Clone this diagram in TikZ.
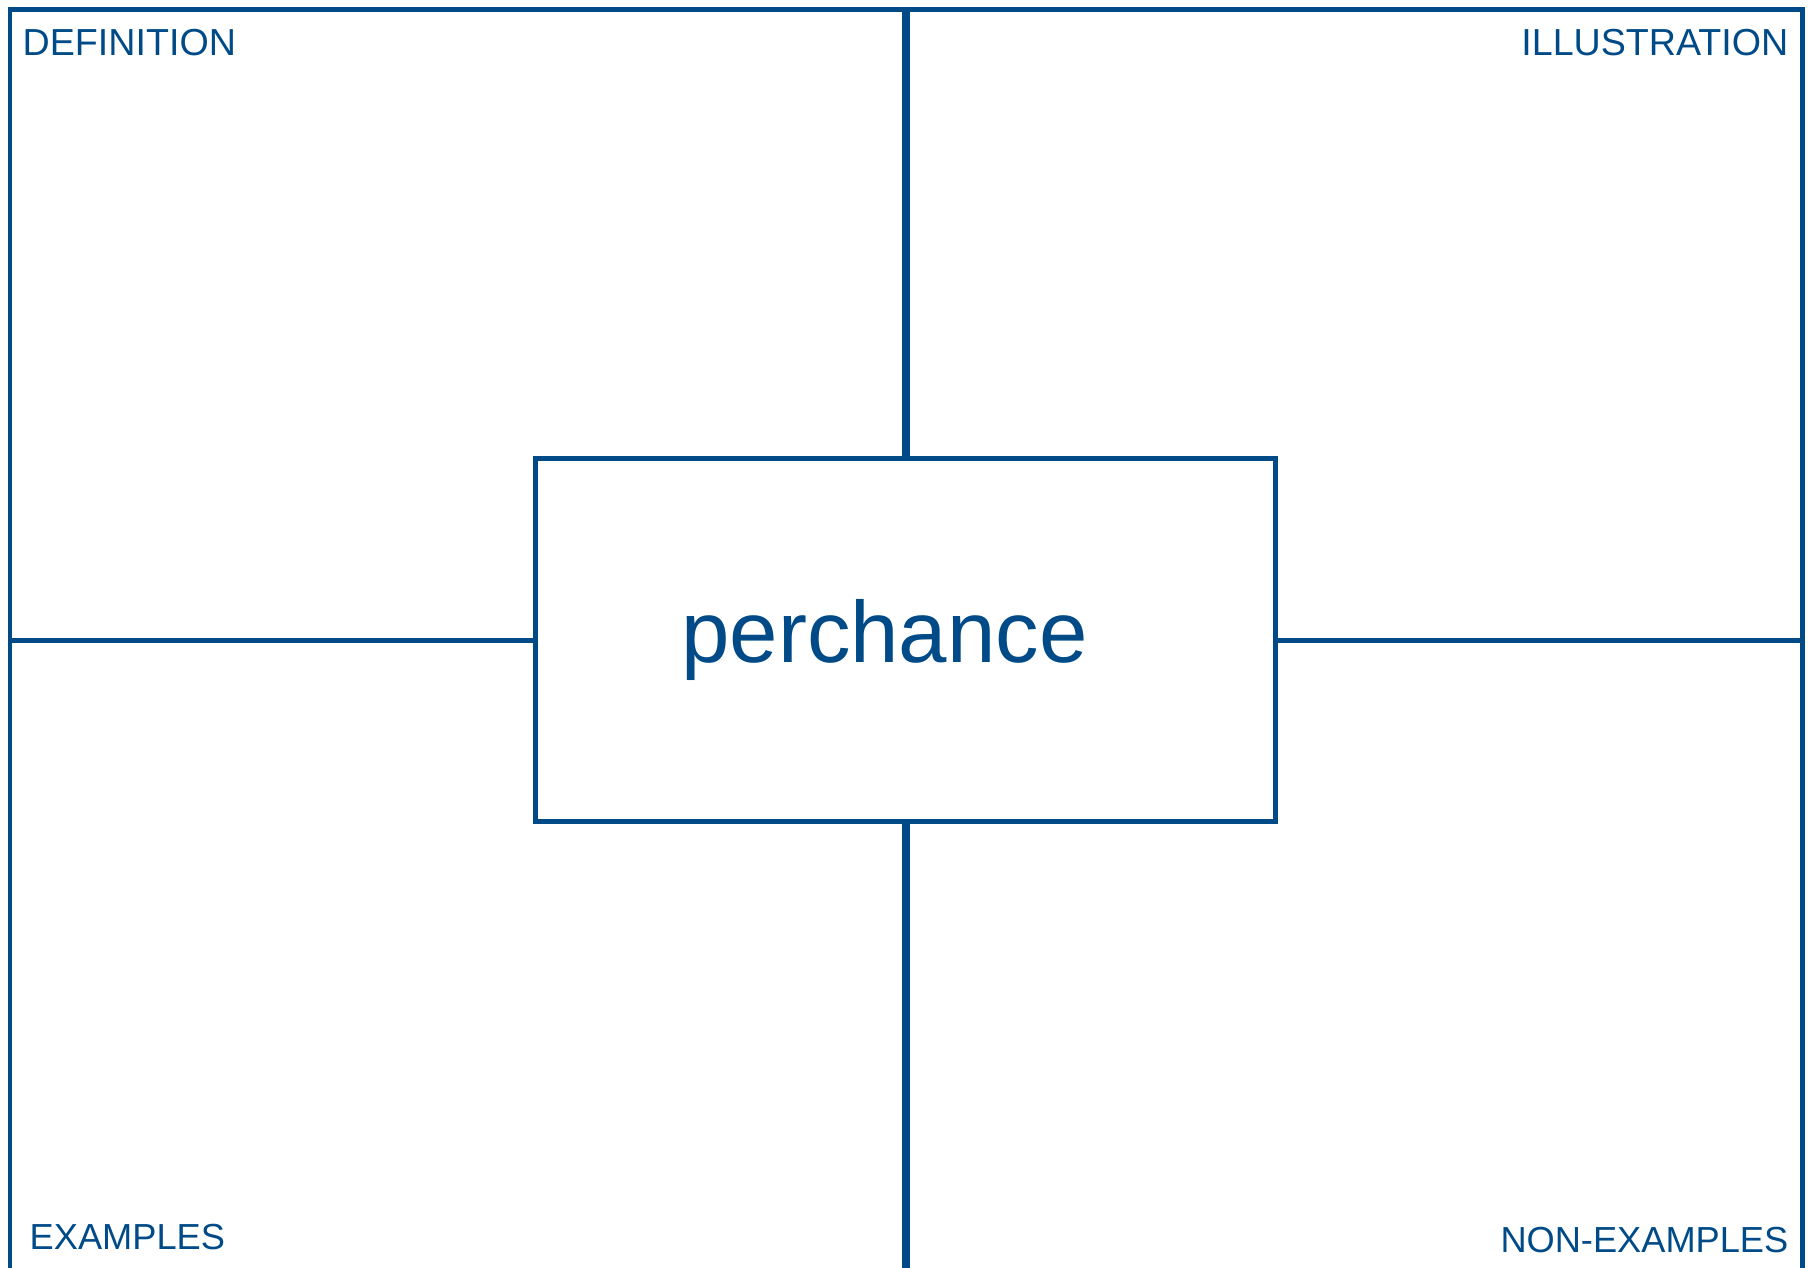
\documentclass[tikz,border=0pt]{standalone}
\usepackage{fontspec}
\setmainfont{Liberation Sans}
\usepackage{xcolor}
\usepackage{tikz}
\usetikzlibrary{positioning}
\definecolor{frameblue}{RGB}{0,75,135}
\tikzset{
    frame/.style={draw=frameblue, line width=1.42pt},
    divider/.style={draw=frameblue, line width=2.28pt},
    corner label/.style={text=frameblue, inner sep=0pt, font=\fontsize{10.7}{12.5}\selectfont},
    low label/.style={corner label, font=\fontsize{10.3}{12}\selectfont},
    word label/.style={text=frameblue, inner sep=0pt, font=\fontsize{24.75}{30}\selectfont}
}

\begin{document}
\begin{tikzpicture}[x=0.01cm, y=-0.01cm]
        \useasboundingbox (0,0) rectangle (1813,1267);

        % outer frame, open at the bottom
        \draw[frame] (10,1290) -- (10,10) -- (1802,10) -- (1802,1290);
        \coordinate (ftop) at (906,10);
        \coordinate (fbottom) at (906,1290);
        \coordinate (fleft) at (10,640);
        \coordinate (fright) at (1802,640);

        % centre box
        \draw (905.5,640) node[frame, minimum width=7.4cm, minimum height=3.63cm, inner sep=0pt](box){};
        \draw (884.5,662) node[word label, anchor=base](word){perchance};

        \draw[divider] (ftop) -- (box.north -| ftop);
        \draw[divider] (box.south -| fbottom) -- (fbottom);
        \draw[frame] (fleft) -- (box.west);
        \draw[frame] (box.east) -- (fright);

        % corner labels
        \draw (22,56) node[corner label, anchor=base west](def){DEFINITION};
        \draw (1789,56) node[corner label, anchor=base east](ill){ILLUSTRATION};
        \draw (29,1249) node[low label, anchor=base west](ex){EXAMPLES};
        \draw (1789,1252) node[low label, anchor=base east](nonex){NON-EXAMPLES};
    \end{tikzpicture}
\end{document}
